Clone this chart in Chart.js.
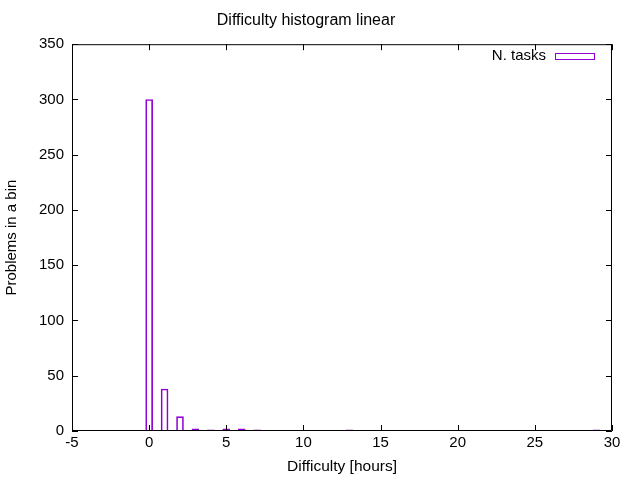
<!DOCTYPE html>
<html>
<head>
<meta charset="utf-8">
<script src="https://cdn.jsdelivr.net/npm/chart.js@4/dist/chart.umd.min.js"></script>
<style>
  body { margin: 0; background: #fff; }
  canvas { display: block; }
</style>
</head>
<body>
<canvas id="histChart" width="640" height="480"></canvas>
<script>
// --- DATA ---
const binCenters = [0, 1, 2, 3, 4, 5, 6, 7, 13, 29];
const taskCounts = [300, 38, 13, 2, 1, 2, 2, 1, 1, 1];
const xTicks = [-5, 0, 5, 10, 15, 20, 25, 30];
const yTicks = [0, 50, 100, 150, 200, 250, 300, 350];
const seriesName = 'N. tasks';

const purple = '#9400d3';
const fontFamily = '"Liberation Sans", Arial, sans-serif';

// gnuplot style frame, inward ticks and legend
const framePlugin = {
    id: 'frame',
    afterDraw(chart) {
        const { ctx, chartArea: a, scales } = chart;
        ctx.save();
        ctx.strokeStyle = '#000';
        ctx.lineWidth = 1;
        ctx.beginPath();
        ctx.rect(a.left + 0.5, a.top + 0.5, a.right - a.left - 1, a.bottom - a.top - 1);
        const len = 6;
        xTicks.forEach(v => {
            const px = Math.round(scales.x.getPixelForValue(v)) + 0.5;
            ctx.moveTo(px, a.bottom); ctx.lineTo(px, a.bottom - len);
            ctx.moveTo(px, a.top); ctx.lineTo(px, a.top + len);
        });
        yTicks.forEach(v => {
            const py = Math.round(scales.y.getPixelForValue(v)) + 0.5;
            ctx.moveTo(a.left, py); ctx.lineTo(a.left + len, py);
            ctx.moveTo(a.right, py); ctx.lineTo(a.right - len, py);
        });
        ctx.stroke();

        // legend: text then sample box
        ctx.font = '15px ' + fontFamily;
        ctx.fillStyle = '#000';
        ctx.textAlign = 'right';
        ctx.textBaseline = 'middle';
        ctx.fillText(seriesName, 546, 56);
        ctx.strokeStyle = purple;
        ctx.strokeRect(555.5, 53.5, 39, 6);
        ctx.restore();
    }
};

const ctx = document.getElementById('histChart').getContext('2d');
new Chart(ctx, {
    type: 'bar',
    data: {
        datasets: [{
            label: seriesName,
            data: binCenters.map((x, i) => ({ x: x, y: taskCounts[i] })),
            backgroundColor: 'rgba(0,0,0,0)',
            borderColor: purple,
            borderWidth: 1,
            barThickness: 7
        }]
    },
    options: {
        responsive: false,
        animation: false,
        layout: { padding: { right: 28 } },
        scales: {
            x: {
                type: 'linear',
                min: -5,
                max: 30,
                offset: false,
                afterFit: s => { s.height = 49; },
                afterBuildTicks: s => { s.ticks = xTicks.map(v => ({ value: v })); },
                grid: { display: false, drawTicks: false },
                border: { display: false },
                ticks: { color: '#000', font: { family: fontFamily, size: 15 }, padding: 3, maxRotation: 0 },
                title: {
                    display: true,
                    text: 'Difficulty [hours]',
                    color: '#000',
                    font: { family: fontFamily, size: 15.5 },
                    padding: { top: 0, bottom: 4 }
                }
            },
            y: {
                min: 0,
                max: 350,
                afterFit: s => { s.width = 72; },
                afterBuildTicks: s => { s.ticks = yTicks.map(v => ({ value: v })); },
                grid: { display: false, drawTicks: false },
                border: { display: false },
                ticks: { color: '#000', font: { family: fontFamily, size: 15 }, padding: 8 },
                title: {
                    display: true,
                    text: 'Problems in a bin',
                    color: '#000',
                    font: { family: fontFamily, size: 15 },
                    padding: { top: 3, bottom: 0 }
                }
            }
        },
        plugins: {
            legend: { display: false },
            tooltip: { enabled: false },
            title: {
                display: true,
                text: 'Difficulty histogram linear',
                color: '#000',
                font: { family: fontFamily, size: 16, weight: 'normal' },
                padding: { top: 11, bottom: 14 }
            }
        }
    },
    plugins: [framePlugin]
});
</script>
</body>
</html>
